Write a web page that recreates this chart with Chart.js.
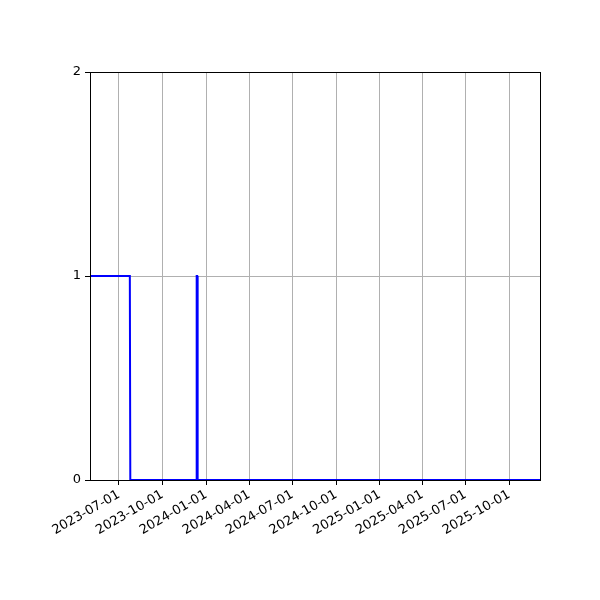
<!DOCTYPE html>
<html>
<head>
<meta charset="utf-8">
<script src="https://cdn.jsdelivr.net/npm/chart.js@4"></script>
<style>
  html, body { margin: 0; padding: 0; background: #fff; }
  #wrap { width: 600px; height: 600px; }
</style>
</head>
<body>
<div id="wrap"><canvas id="chart" width="600" height="600"></canvas></div>
<script>
// ── 数据 ──
const dates = ['2023-05-01', '2023-07-24', '2023-07-25', '2023-12-11', '2023-12-12', '2023-12-13', '2023-12-14', '2025-12-05'];
const values = [1, 1, 0, 0, 1, 1, 0, 0];
const xTickLabels = ['2023-07-01', '2023-10-01', '2024-01-01', '2024-04-01', '2024-07-01',
  '2024-10-01', '2025-01-01', '2025-04-01', '2025-07-01', '2025-10-01'];
const yTicks = [0, 1, 2];
const xMin = '2023-05-01';
const xMax = '2025-12-05';

const toMs = s => Date.parse(s + 'T00:00:00Z');
const fmt = ms => new Date(ms).toISOString().slice(0, 10);

// 外框
const frame = {
  id: 'frame',
  afterDraw(chart) {
    const { ctx, chartArea: a } = chart;
    ctx.save();
    ctx.strokeStyle = '#000';
    ctx.lineWidth = 1;
    ctx.strokeRect(a.left + 0.5, a.top + 0.5, a.right - a.left, a.bottom - a.top);
    ctx.restore();
  },
};

new Chart(document.getElementById('chart'), {
  type: 'line',
  data: {
    datasets: [{
      data: dates.map((d, i) => ({ x: toMs(d), y: values[i] })),
      borderColor: '#0000ff',
      borderWidth: 2,
      pointRadius: 0,
      tension: 0,
      fill: false,
    }],
  },
  options: {
    responsive: false,
    animation: false,
    layout: { padding: { left: 0, right: 60, top: 72, bottom: 0 } },
    plugins: { legend: { display: false }, tooltip: { enabled: false } },
    scales: {
      x: {
        type: 'linear',
        min: toMs(xMin),
        max: toMs(xMax),
        afterBuildTicks(scale) { scale.ticks = xTickLabels.map(s => ({ value: toMs(s) })); },
        afterFit(scale) { scale.height = 120; },
        grid: { color: '#b0b0b0', tickColor: '#000', tickLength: 5, lineWidth: 1 },
        border: { display: true, color: '#000' },
        ticks: {
          callback: v => fmt(v),
          minRotation: 30,
          maxRotation: 30,
          autoSkip: false,
          color: '#000',
          font: { family: 'DejaVu Sans', size: 13 },
          padding: 2,
        },
      },
      y: {
        min: 0,
        max: 2,
        afterBuildTicks(scale) { scale.ticks = yTicks.map(v => ({ value: v })); },
        afterFit(scale) { scale.width = 90; },
        grid: {
          color: ctx => (ctx.tick && ctx.tick.value === 1 ? '#b0b0b0' : 'rgba(0,0,0,0)'),
          tickColor: '#000',
          tickLength: 5,
        },
        border: { display: true, color: '#000' },
        ticks: {
          color: '#000',
          font: { family: 'DejaVu Sans', size: 13 },
          padding: 4,
        },
      },
    },
  },
  plugins: [frame],
});
</script>
</body>
</html>
